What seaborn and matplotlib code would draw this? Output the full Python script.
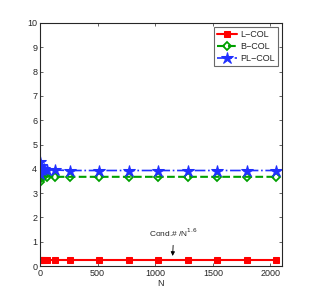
import matplotlib
matplotlib.use("Agg")
import matplotlib.pyplot as plt
import seaborn as sns
import pandas as pd

# problem sizes
N = [2, 4, 8, 16, 32, 64, 128, 256, 512, 768, 1024, 1280, 1536, 1792, 2048]

# condition number scaled by N^1.6
l_col = [0.25, 0.25, 0.25, 0.25, 0.25, 0.25, 0.25, 0.25, 0.25, 0.25, 0.25, 0.25, 0.25, 0.25, 0.25]
b_col = [3.45, 3.6, 3.7, 3.72, 3.7, 3.68, 3.67, 3.67, 3.67, 3.67, 3.67, 3.67, 3.67, 3.67, 3.67]
pl_col = [4.3, 3.8, 4.1, 3.95, 4.0, 3.95, 3.95, 3.93, 3.93, 3.93, 3.93, 3.93, 3.93, 3.93, 3.93]

df = pd.DataFrame({"N": N, "L-COL": l_col, "B-COL": b_col, "PL-COL": pl_col})

sns.set_style("ticks")
plt.rcParams["font.family"] = ["Liberation Sans", "DejaVu Sans"]
plt.rcParams["font.size"] = 6.5

fig = plt.figure(figsize=(3.11, 2.99), dpi=100)
ax = fig.add_axes([40 / 311, 33 / 299, 242 / 311, 243 / 299])

sns.lineplot(data=df, x="N", y="L-COL", ax=ax, color="#ff0000", linestyle="-",
             marker="s", markersize=5, markeredgecolor="#ff0000", linewidth=1.5, label="L\u2212COL")
sns.lineplot(data=df, x="N", y="B-COL", ax=ax, color="#00a000", linestyle="--",
             marker="D", markersize=4.5, markerfacecolor="none", markeredgewidth=1.3,
             markeredgecolor="#00a000", linewidth=1.5, label="B\u2212COL")
sns.lineplot(data=df, x="N", y="PL-COL", ax=ax, color="#2030ff", linestyle="-.",
             marker="*", markersize=9, markeredgecolor="#2030ff", linewidth=1.2, label="PL\u2212COL")

ax.set_xlim(0, 2100)
ax.set_ylim(0, 10)
ax.set_xticks([0, 500, 1000, 1500, 2000])
ax.set_yticks(range(0, 11))
ax.set_xlabel("N", fontsize=6.5, labelpad=1)
ax.set_ylabel("")
ax.tick_params(direction="in", length=2, width=0.5, labelsize=6.5, pad=2,
               top=True, right=True)
for s in ax.spines.values():
    s.set_visible(True)
    s.set_linewidth(0.8)

ax.annotate("Cond.# /N$^{1.6}$", xy=(1150, 0.3), xytext=(1160, 1.1),
            ha="center", va="bottom", fontsize=6,
            arrowprops=dict(arrowstyle="-|>", color="black", lw=0.6, mutation_scale=6))

leg = ax.legend(loc="upper right", fontsize=6.5, fancybox=False, edgecolor="#444444",
                handlelength=2.2, handletextpad=0.4, borderpad=0.35, labelspacing=0.35,
                borderaxespad=0.4)
leg.get_frame().set_linewidth(0.8)

fig.savefig("out.png", dpi=100)
